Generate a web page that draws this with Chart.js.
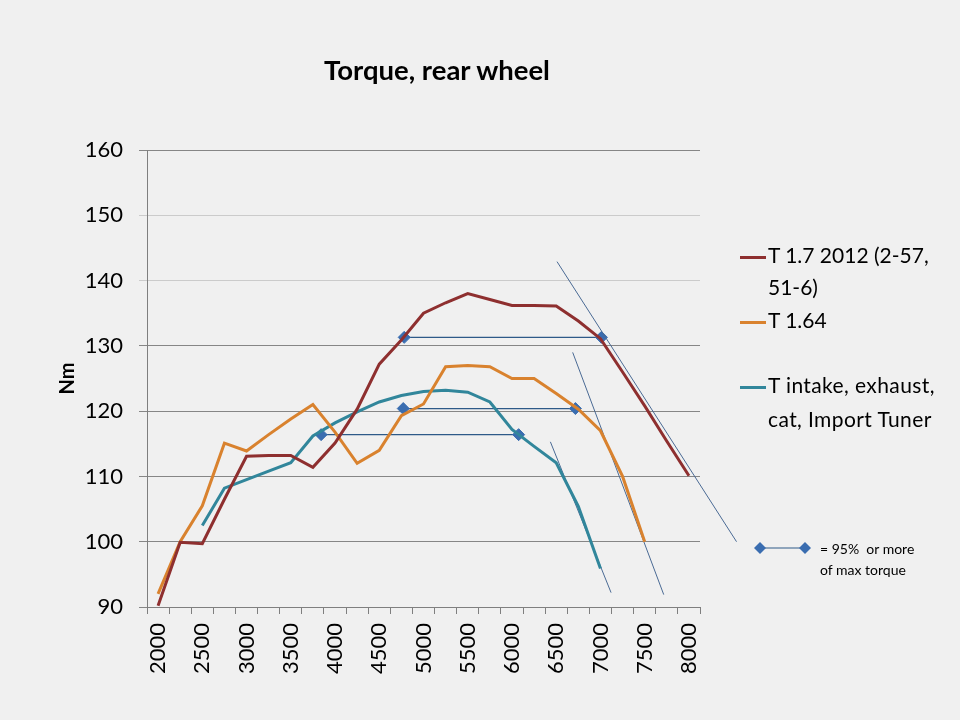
<!DOCTYPE html>
<html>
<head>
<meta charset="utf-8">
<script src="https://cdn.jsdelivr.net/npm/chart.js@4/dist/chart.umd.min.js"></script>
<style>
  body { margin: 0; background: #f0f0f0; font-family: Lato, sans-serif; }
  #wrap { position: relative; width: 960px; height: 720px; overflow: hidden; }
  #chart { position: absolute; left: 0; top: 0; }
  #title { position: absolute; left: 237px; width: 400px; top: 53px; text-align: center;
           font: bold 27.5px Lato, sans-serif; color: #000; }
  .item { position: absolute; left: 740px; font-size: 21px; line-height: 32px; color: #000; }
  .item i { display: inline-block; width: 26px; height: 3px; vertical-align: middle; margin-right: 2px; }
  .item span { display: inline-block; vertical-align: top; }
  #note { position: absolute; left: 752px; top: 538px; font-size: 14px; line-height: 21px; color: #000; }
</style>
</head>
<body>
<div id="wrap">
  <canvas id="chart" width="960" height="720"></canvas>
  <div id="title">Torque, rear wheel</div>
  <div class="item" style="top:239px"><i style="background:#8e2f2f"></i><span>T 1.7 2012 (2-57,<br>51-6)</span></div>
  <div class="item" style="top:304px"><i style="background:#d9822e"></i><span>T 1.64</span></div>
  <div class="item" style="top:368px;line-height:34px;letter-spacing:0.4px"><i style="background:#31869b"></i><span>T intake, exhaust,<br>cat, Import Tuner</span></div>
  <div id="note">
    <svg width="60" height="20" style="position:absolute;left:0;top:0">
      <line x1="8" y1="10" x2="53" y2="10" stroke="#2e5a88" stroke-width="1.2"/>
      <polygon points="8,4 14,10 8,16 2,10" fill="#3a6db0"/>
      <polygon points="53,4 59,10 53,16 47,10" fill="#3a6db0"/>
    </svg>
    <div style="margin-left:68px">= 95%&nbsp; or more<br>of max torque</div>
  </div>
</div>
<script>
const rpm = [2000, 2250, 2500, 2750, 3000, 3250, 3500, 3750, 4000, 4250, 4500, 4750, 5000,
             5250, 5500, 5750, 6000, 6250, 6500, 6750, 7000, 7250, 7500, 7750, 8000];
const xTickLabels = ['2000', '2500', '3000', '3500', '4000', '4500', '5000', '5500',
                     '6000', '6500', '7000', '7500', '8000'];

const t17 = [90.2, 99.9, 99.7, 106.5, 113.1, 113.2, 113.2, 111.4, 115.1, 120.3, 127.2, 130.9, 135.0,
             136.6, 138.0, 137.1, 136.2, 136.2, 136.1, 133.8, 131.1, 126.0, 120.8, 115.4, 110.1];
const t164 = [92.0, 100.0, 105.5, 115.1, 113.9, 116.4, 118.8, 121.0, 116.8, 112.0, 114.0, 119.3, 121.1,
              126.8, 127.0, 126.8, 125.0, 125.0, 122.7, 120.3, 117.0, 110.0, 100.0, null, null];
const tTuner = [null, null, 102.5, 108.2, 109.5, 110.8, 112.1, 116.2, 118.2, 119.9, 121.4, 122.4, 123.0,
                123.2, 122.9, 121.4, 117.2, 114.6, 112.1, 105.4, 95.9, null, null, null, null];

// 95% of max torque markers (rpm range, torque level)
const t17Band = [4782, 7011];     const t17BandNm = 131.3;
const t164Band = [4771, 6717];    const t164BandNm = 120.4;
const tunerBand = [3843, 6075];   const tunerBandNm = 116.4;

// thin guide lines on the falling side
const t17Guide = [[6509, 142.9], [8538, 100.0]];
const t164Guide = [[6686, 129.0], [7715, 91.9]];
const tunerGuide = [[6434, 115.3], [7120, 92.2]];

const toXY = arr => rpm.map((r, i) => ({ x: r, y: arr[i] }));
const band = (xs, y) => xs.map(x => ({ x: x, y: y }));
const guide = pts => pts.map(p => ({ x: p[0], y: p[1] }));

function seriesSet(label, data, color) {
  return { label, data, borderColor: color, borderWidth: 3, pointRadius: 0, tension: 0, spanGaps: false };
}
function bandSet(data) {
  return { data, borderColor: '#2e5a88', borderWidth: 1.2, pointStyle: 'rectRot', pointRadius: 6,
           pointBackgroundColor: '#3a6db0', pointBorderColor: '#3a6db0', pointBorderWidth: 1 };
}
function guideSet(data) {
  return { data, borderColor: '#4a6a94', borderWidth: 1, pointRadius: 0, clip: false };
}

const font = { family: 'Lato, sans-serif', size: 22 };

new Chart(document.getElementById('chart'), {
  type: 'line',
  data: {
    datasets: [
      seriesSet('T 1.7 2012 (2-57, 51-6)', toXY(t17), '#8e2f2f'),
      seriesSet('T 1.64', toXY(t164), '#d9822e'),
      seriesSet('T intake, exhaust, cat, Import Tuner', toXY(tTuner), '#31869b'),
      guideSet(guide(t17Guide)),
      guideSet(guide(t164Guide)),
      guideSet(guide(tunerGuide)),
      bandSet(band(t17Band, t17BandNm)),
      bandSet(band(t164Band, t164BandNm)),
      bandSet(band(tunerBand, tunerBandNm))
    ]
  },
  options: {
    responsive: false,
    animation: false,
    layout: { padding: { top: 150, right: 260, bottom: 0, left: 0 } },
    plugins: { legend: { display: false }, tooltip: { enabled: false } },
    scales: {
      x: {
        type: 'linear',
        min: 1875,
        max: 8125,
        afterBuildTicks: scale => {
          const ticks = [];
          rpm.forEach(r => { ticks.push({ value: r - 125 }); ticks.push({ value: r }); });
          ticks.push({ value: 8125 });
          scale.ticks = ticks;
        },
        afterFit: scale => { scale.height = 113; },
        ticks: {
          autoSkip: false,
          minRotation: 90,
          maxRotation: 90,
          padding: 9,
          color: '#000',
          font: font,
          callback: v => xTickLabels.includes(String(v)) ? String(v) : ''
        },
        grid: {
          drawOnChartArea: false,
          tickLength: 7,
          tickColor: ctx => ((ctx.tick.value - 1875) % 250 === 0) ? '#7f7f7f' : 'rgba(0,0,0,0)'
        },
        border: { color: '#7f7f7f' }
      },
      y: {
        min: 90,
        max: 160,
        afterFit: scale => { scale.width = 147; },
        ticks: { stepSize: 10, padding: 16, color: '#000', font: font },
        grid: {
          tickLength: 8,
          color: ctx => (ctx.tick.value === 140 || ctx.tick.value === 150) ? '#cbcbcb' : '#868686'
        },
        border: { color: '#7f7f7f' },
        title: {
          display: true,
          text: 'Nm',
          color: '#000',
          font: { family: 'Lato, sans-serif', size: 20, weight: 'bold' },
          padding: { top: 56, bottom: 0 }
        }
      }
    }
  }
});
</script>
</body>
</html>
